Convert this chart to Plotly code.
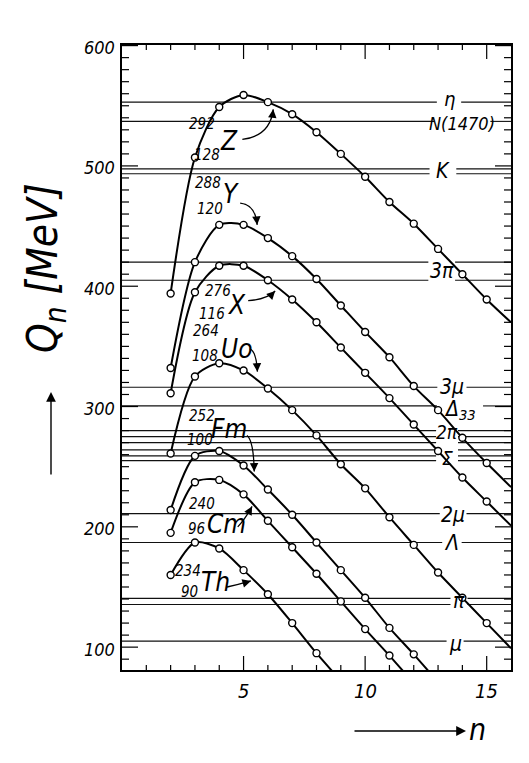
import plotly.graph_objects as go

# ---------------- data ----------------
n_Z = list(range(2, 17))
Q_Z = [394, 507, 549, 559, 553, 543, 528, 510, 491, 470, 452, 431, 410, 389, 370]
n_Y = list(range(2, 17))
Q_Y = [332, 420, 451, 451, 440, 425, 406, 384, 362, 341, 317, 297, 274, 253, 233]
n_X = list(range(2, 17))
Q_X = [311, 395, 417, 417, 405, 389, 370, 349, 328, 307, 285, 263, 241, 221, 201]
n_U = list(range(2, 17))
Q_U = [261, 325, 336, 330, 315, 297, 276, 252, 232, 208, 185, 162, 141, 120, 99]
n_Fm = list(range(2, 14))
Q_Fm = [214, 259, 263, 251, 231, 210, 187, 164, 141, 116, 94, 71]
n_Cm = list(range(2, 13))
Q_Cm = [195, 237, 239, 227, 205, 183, 161, 138, 115, 93, 70]
n_Th = list(range(2, 10))
Q_Th = [160, 187, 182, 164, 144, 120, 95, 72]

nucleus_A = ["292", "288", "276", "264", "252", "240", "234"]
nucleus_Z = ["128", "120", "116", "108", "100", "96", "90"]
nucleus_sym = ["Z", "Y", "X", "Uo", "Fm", "Cm", "Th"]

level_names = ["η", "N(1470)", "K", "3π", "3μ", "Δ<sub>33</sub>", "2π", "Σ",
               "2μ", "Λ", "π", "μ"]
level_Q = [[553], [537], [497.5, 493.5], [420, 405], [316], [300.5],
           [280, 275, 270], [264, 259, 255], [211], [187], [140.5, 135.5], [105]]

x_ticks = [5, 10, 15]
y_ticks = [100, 200, 300, 400, 500, 600]

# ---------------- layout helpers ----------------
X_RANGE = [0, 16]
Y_RANGE = [81, 600.5]
OFF = 8                      # page body margin
W, H = 513, 747
ML, MR, MT, MB = 114, 10, 37, 85
PW, PH = W - ML - MR, H - MT - MB
PX_N = PW / (X_RANGE[1] - X_RANGE[0])
PX_Q = PH / (Y_RANGE[1] - Y_RANGE[0])


def pxx(px):
    return (px - OFF - ML) / PW


def pxy(py):
    return (OFF + MT + PH - py) / PH


FONT = "Liberation Sans Narrow, DejaVu Sans Condensed, Liberation Sans, sans-serif"

# right-hand label centres (n, Q) and half gap in n
level_pos = [(13.45, 556, 0.5), (14.0, 535.5, 1.15), (13.2, 495.5, 0.55), (13.15, 413, 0.55),
             (13.57, 316, 0.6), (13.9, 297, 0.95), (13.37, 279, 0.45), (13.37, 257.5, 0.45),
             (13.62, 210, 0.55), (13.57, 186.5, 0.4), (13.86, 138.5, 0.35), (13.7, 103, 0.35)]
level_size = [20, 18, 21, 21, 21, 21, 19, 19, 21, 21, 21, 21]

# nucleus label positions: A, Z, symbol, arrow (tail, control, head)
nuc_pos = [
    dict(A=(3.30, 535), Zn=(3.50, 509), S=(4.42, 521), arr=((4.95, 522), (6.10, 525), (6.22, 547))),
    dict(A=(3.55, 486), Zn=(3.63, 464), S=(4.50, 477), arr=((4.86, 469), (5.48, 468), (5.56, 451))),
    dict(A=(3.96, 396), Zn=(3.71, 377), S=(4.74, 384), arr=((5.19, 388), (5.96, 389), (6.30, 396))),
    dict(A=(3.45, 363), Zn=(3.42, 342), S=(4.72, 348), arr=((5.25, 348), (5.52, 346.5), (5.57, 329))),
    dict(A=(3.29, 292.5), Zn=(3.22, 272), S=(4.42, 281.5), arr=((5.14, 276), (5.41, 272), (5.44, 246))),
    dict(A=(3.29, 219), Zn=(3.05, 198.5), S=(4.28, 202.6), arr=((4.76, 200), (5.05, 206), (5.35, 217))),
    dict(A=(2.72, 163), Zn=(2.78, 146), S=(3.86, 154), arr=((4.32, 150), (4.8, 152), (5.3, 155))),
]

fig = go.Figure()

# threshold lines with gaps at labels
lx, ly = [], []
for (cx, cy, g), qs in zip(level_pos, level_Q):
    for q in qs:
        lx += [X_RANGE[0], cx - g, None, cx + g, X_RANGE[1], None]
        ly += [q, q, None, q, q, None]
fig.add_trace(go.Scatter(x=lx, y=ly, mode="lines", line=dict(color="#111", width=1.1),
                         hoverinfo="skip", showlegend=False))

curves = [(n_Z, Q_Z), (n_Y, Q_Y), (n_X, Q_X), (n_U, Q_U), (n_Fm, Q_Fm), (n_Cm, Q_Cm), (n_Th, Q_Th)]
for ns, qs in curves:
    fig.add_trace(go.Scatter(x=ns, y=qs, mode="lines",
                             line=dict(color="black", width=2, shape="spline", smoothing=0.8),
                             hoverinfo="skip", showlegend=False))
    mk = [(a, b) for a, b in zip(ns, qs) if a <= 15 and b >= Y_RANGE[0]]
    fig.add_trace(go.Scatter(x=[a for a, b in mk], y=[b for a, b in mk], mode="markers",
                             marker=dict(symbol="circle", size=7, color="white",
                                         line=dict(color="black", width=1.4)),
                             hoverinfo="skip", showlegend=False))

ann = []
shapes = []

# ---- tick marks (inside, on all four sides) ----
TK = dict(color="black", width=1.2)
for v in range(90, 601, 10):
    L = 16 if v % 100 == 0 else 7
    shapes.append(dict(type="line", xref="paper", yref="y", x0=0, x1=L / PW, y0=v, y1=v, line=TK))
    shapes.append(dict(type="line", xref="paper", yref="y", x0=1, x1=1 - L / PW, y0=v, y1=v, line=TK))
for k in range(1, 16):
    L = 14 if k % 5 == 0 else 5
    shapes.append(dict(type="line", xref="x", yref="paper", x0=k, x1=k, y0=0, y1=L / PH, line=TK))
    shapes.append(dict(type="line", xref="x", yref="paper", x0=k, x1=k, y0=1, y1=1 - L / PH, line=TK))

# ---- tick labels ----
for v in y_ticks:
    ann.append(dict(xref="paper", yref="y", x=0, y=v, text=str(v), showarrow=False,
                    xanchor="right", yanchor="middle", xshift=-5, yshift=-2,
                    font=dict(family=FONT, size=18, color="black", style="italic")))
for k in x_ticks:
    ann.append(dict(xref="x", yref="paper", x=k, y=0, text=str(k), showarrow=False,
                    xanchor="center", yanchor="top", yshift=-7,
                    font=dict(family=FONT, size=20, color="black", style="italic")))

for name, (cx, cy, g), fs in zip(level_names, level_pos, level_size):
    ann.append(dict(x=cx, y=cy, xref="x", yref="y", text=name, showarrow=False,
                    font=dict(family=FONT, size=fs, color="black", style="italic")))

for i, p in enumerate(nuc_pos):
    ann.append(dict(x=p["A"][0], y=p["A"][1], xref="x", yref="y", text=nucleus_A[i], showarrow=False,
                    font=dict(family=FONT, size=15, color="black", style="italic")))
    ann.append(dict(x=p["Zn"][0], y=p["Zn"][1], xref="x", yref="y", text=nucleus_Z[i], showarrow=False,
                    font=dict(family=FONT, size=15, color="black", style="italic")))
    ann.append(dict(x=p["S"][0], y=p["S"][1], xref="x", yref="y", text=nucleus_sym[i], showarrow=False,
                    font=dict(family=FONT, size=26, color="black", style="italic")))
    (x0, y0), (xc, yc), (x1, y1) = p["arr"]
    shapes.append(dict(type="path", xref="x", yref="y",
                       path=f"M {x0},{y0} Q {xc},{yc} {x1},{y1}",
                       line=dict(color="black", width=1.3)))
    dx = (x1 - xc) * PX_N
    dy = -(y1 - yc) * PX_Q
    Ld = (dx * dx + dy * dy) ** 0.5 or 1
    ann.append(dict(x=x1, y=y1, xref="x", yref="y", text="", showarrow=True,
                    ax=-dx / Ld * 9, ay=-dy / Ld * 9, axref="pixel", ayref="pixel",
                    arrowhead=2, arrowsize=1.3, arrowwidth=1.3, arrowcolor="black", standoff=0))

# axis titles
ann.append(dict(xref="paper", yref="paper", x=pxx(45), y=pxy(268),
                text="Q<sub>n</sub> [MeV]", textangle=-90, showarrow=False,
                xanchor="center", yanchor="middle",
                font=dict(family=FONT, size=42, color="black", style="italic")))
ann.append(dict(xref="paper", yref="paper", x=pxx(51), y=pxy(392),
                text="", showarrow=True, ax=0, ay=84, arrowhead=2, arrowsize=1.4,
                arrowwidth=1.4, arrowcolor="black", standoff=0))
ann.append(dict(xref="paper", yref="paper", x=pxx(466), y=pxy(731),
                text="", showarrow=True, ax=-113, ay=0, arrowhead=2, arrowsize=1.4,
                arrowwidth=1.4, arrowcolor="black", standoff=0))
ann.append(dict(xref="paper", yref="paper", x=pxx(477), y=pxy(729),
                text="n", showarrow=False, xanchor="center", yanchor="middle",
                font=dict(family=FONT, size=30, color="black", style="italic")))

axis_common = dict(showgrid=False, zeroline=False, showticklabels=False, ticks="",
                   showline=True, linecolor="black", linewidth=1.6, mirror=True)
fig.update_layout(
    width=W, height=H, margin=dict(l=ML, r=MR, t=MT, b=MB, autoexpand=False),
    paper_bgcolor="white", plot_bgcolor="white",
    showlegend=False, annotations=ann, shapes=shapes,
    xaxis=dict(range=X_RANGE, **axis_common),
    yaxis=dict(range=Y_RANGE, **axis_common),
)

fig.write_html("out.html")
